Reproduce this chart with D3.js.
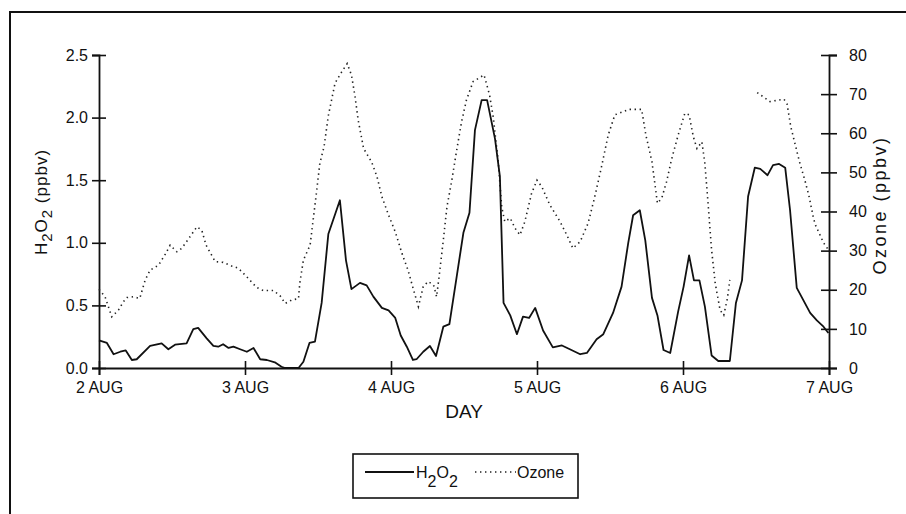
<!DOCTYPE html>
<html>
<head>
<meta charset="utf-8">
<script src="https://cdn.jsdelivr.net/npm/d3@7"></script>
<style>
body { margin: 0; background: #fff; }
svg { font-family: "Liberation Sans", Arial, sans-serif; }
</style>
</head>
<body>
<script>
// hours since 2 Aug 00:00
var h2o2Hours = [0, 1.3, 2.4, 3.5, 4.4, 5.4, 6.2, 8.4, 10.3, 11.4, 12.5, 14.4, 15.5, 16.3, 17.7, 18.8, 19.6, 20.4,
        21.3, 22.1, 23.2, 24.3, 25.4, 26.5, 27.6, 28.9, 30.0, 30.6, 32.8, 33.6, 34.6, 35.5, 36.6, 37.7, 39.6, 40.6,
        41.5, 42.9, 44.0, 45.1, 46.5, 47.6, 48.7, 49.6, 50.6, 51.6, 52.2, 53.3, 54.4, 55.4, 56.6, 57.6, 58.8, 59.9,
        60.9, 61.8, 62.9, 63.8, 65.1, 65.9, 66.5, 67.6, 68.7, 69.7, 70.7, 71.7, 73.0, 74.6, 76.1, 77.4, 79.1, 80.2,
        81.8, 82.9, 84.5, 85.9, 87.0, 87.8, 88.9, 89.8, 90.9, 91.8, 92.8, 93.9, 95.2, 96.1, 97.0, 97.8, 98.7, 99.6,
        100.7, 101.8, 103.7, 104.7, 105.7, 106.7, 107.8, 108.7, 109.9, 110.8, 111.8, 112.8, 113.6, 114.7, 115.8,
        116.9, 118.0, 119.1, 119.9];
var h2o2Values = [0.22, 0.20, 0.11, 0.13, 0.14, 0.064, 0.07, 0.176, 0.197, 0.15, 0.186, 0.197, 0.31, 0.32, 0.237, 0.176,
        0.17, 0.19, 0.16, 0.17, 0.15, 0.13, 0.16, 0.07, 0.064, 0.045, 0.01, 0, 0, 0.05, 0.2, 0.21, 0.52, 1.07, 1.34,
        0.86, 0.63, 0.68, 0.66, 0.57, 0.48, 0.46, 0.40, 0.26, 0.17, 0.064, 0.07, 0.13, 0.176, 0.096, 0.33, 0.35,
        0.73, 1.08, 1.24, 1.90, 2.14, 2.14, 1.83, 1.53, 0.52, 0.42, 0.27, 0.41, 0.40, 0.48, 0.30, 0.165, 0.18, 0.15,
        0.11, 0.12, 0.23, 0.27, 0.44, 0.65, 1.00, 1.22, 1.26, 1.02, 0.56, 0.42, 0.144, 0.12, 0.45, 0.65, 0.90, 0.70,
        0.70, 0.49, 0.10, 0.056, 0.056, 0.52, 0.70, 1.37, 1.60, 1.59, 1.54, 1.62, 1.63, 1.60, 1.26, 0.64, 0.54,
        0.44, 0.38, 0.33, 0.28];

var ozoneHours = [0, 1.0, 2.1, 3.2, 4.0, 4.6, 5.6, 6.7, 7.6, 8.4, 9.8, 10.9, 11.7, 12.8, 13.6, 14.4, 16.1, 16.9, 17.6,
        19.1, 20.4, 21.8, 22.9, 24.3, 25.9, 27.0, 28.7, 29.8, 30.6, 31.7, 32.8, 33.0, 33.6, 34.7, 35.2, 35.8, 36.3,
        37.0, 37.7, 38.8, 39.9, 40.8, 41.5, 42.1, 42.6, 43.5, 44.8, 45.7, 46.5, 47.6, 48.7, 49.8, 50.8, 51.7, 52.5,
        53.3, 54.1, 55.0, 55.5, 56.1, 56.6, 57.2, 58.0, 58.8, 59.6, 60.4, 61.5, 63.3, 64.2, 64.8, 65.6, 66.2, 66.7,
        67.6, 68.4, 69.2, 70.0, 71.1, 72.0, 72.8, 74.1, 75.8, 76.9, 77.9, 79.1, 80.4, 81.5, 82.6, 83.7, 84.8, 87.2,
        89.2, 89.9, 90.9, 91.8, 92.5, 93.3, 94.1, 95.2, 96.3, 97.0, 97.7, 98.3, 99.1, 99.6, 100.2, 100.7, 101.3,
        102.1, 102.7, 103.3, 103.7, 105.9, 108.2, 110.3, 112.6, 113.1, 113.5, 113.7, 115.1, 116.1, 116.7, 117.4,
        117.7, 119.1, 120];
var ozoneValues = [20.1, 18.2, 13.1, 14.8, 16.9, 18.0, 18.2, 17.8, 22.5, 25.0, 26.3, 29.1, 31.4, 29.7, 30.6, 32.3,
        36.1, 35.2, 31.4, 27.2, 27.0, 26.1, 25.5, 23.3, 20.6, 19.8, 19.8, 18.4, 16.5, 17.4, 17.7, 21.6, 27.6, 31.4,
        37.8, 45.5, 52.3, 56.6, 64.5, 72.8, 75.7, 77.8, 74.9, 69.3, 63.4, 56.1, 52.7, 48.9, 43.8, 39.1, 34.8, 29.3,
        25.0, 20.0, 15.7, 20.8, 22.1, 21.2, 18.2, 25.9, 32.7, 41.2, 48.0, 55.7, 62.9, 68.5, 73.2, 74.9, 69.8, 64.2,
        53.2, 41.2, 37.4, 38.3, 35.7, 34.0, 37.4, 44.6, 48.0, 46.3, 41.7, 37.4, 34.0, 30.6, 32.3, 37.0, 43.8, 51.4,
        59.5, 64.7, 66.1, 66.1, 59.5, 52.7, 42.1, 43.4, 47.6, 53.2, 59.5, 65.1, 64.7, 59.1, 56.1, 57.8, 52.3, 40.4,
        30.2, 21.6, 14.8, 13.5, 17.8, 22.5, null, 70.4, 68.1, 68.7, 67.5, 63.8, 61.8, 53.0, 47.6, 44.0, 38.7, 36.8,
        32.0, 30.0];

var dayTicks = [0, 24, 48, 72, 96, 120];
var dayLabels = ["2 AUG", "3 AUG", "4 AUG", "5 AUG", "6 AUG", "7 AUG"];
var h2o2Ticks = [0, 0.5, 1.0, 1.5, 2.0, 2.5];
var ozoneTicks = [0, 10, 20, 30, 40, 50, 60, 70, 80];

var width = 906, height = 514;
var plotLeft = 99, plotRight = 829, plotTop = 55, plotBottom = 368;

var svg = d3.select('body').append('svg')
        .attr('width', width)
        .attr('height', height);

// frame (top and left edges only)
svg.append('path')
        .attr('d', 'M10,514 L10,12 L906,12')
        .attr('fill', 'none')
        .attr('stroke', '#111')
        .attr('stroke-width', 2);

var x = d3.scaleLinear().domain([0, 120]).range([plotLeft, plotRight]);
var yH = d3.scaleLinear().domain([0, 2.5]).range([plotBottom, plotTop]);
var yO = d3.scaleLinear().domain([0, 80]).range([plotBottom, plotTop]);

function styleAxis(g) {
        g.select('.domain').attr('stroke', '#111').attr('stroke-width', 1.8);
        g.selectAll('.tick line').attr('stroke', '#111').attr('stroke-width', 1.6);
        g.selectAll('.tick text').attr('fill', '#111').style('font-size', '16px');
}

var xAxis = svg.append('g')
        .attr('transform', 'translate(0,' + plotBottom + ')')
        .call(d3.axisBottom(x).tickValues(dayTicks).tickSizeOuter(0).tickSize(7).tickPadding(7)
                .tickFormat(function(d, i) { return dayLabels[i]; }));
styleAxis(xAxis);
xAxis.selectAll('.tick line').attr('y1', -7);

var leftAxis = svg.append('g')
        .attr('transform', 'translate(' + plotLeft + ',0)')
        .call(d3.axisLeft(yH).tickValues(h2o2Ticks).tickSizeOuter(0).tickSize(7).tickPadding(4)
                .tickFormat(d3.format('.1f')));
styleAxis(leftAxis);
leftAxis.selectAll('.tick line').attr('x1', 7);

var rightAxis = svg.append('g')
        .attr('transform', 'translate(' + plotRight + ',0)')
        .call(d3.axisRight(yO).tickValues(ozoneTicks).tickSizeOuter(0).tickSize(8).tickPadding(12));
styleAxis(rightAxis);
rightAxis.selectAll('.tick line').attr('x1', -8);

// series
var h2o2Data = h2o2Hours.map(function(h, i) { return [h, h2o2Values[i]]; });
var ozoneData = ozoneHours.map(function(h, i) { return [h, ozoneValues[i]]; });

svg.append('path')
        .datum(ozoneData)
        .attr('fill', 'none')
        .attr('stroke', '#222')
        .attr('stroke-width', 1.6)
        .attr('stroke-dasharray', '1.4,3.6')
        .attr('d', d3.line()
                .defined(function(d) { return d[1] !== null; })
                .x(function(d) { return x(d[0]); })
                .y(function(d) { return yO(d[1]); }));

svg.append('path')
        .datum(h2o2Data)
        .attr('fill', 'none')
        .attr('stroke', '#111')
        .attr('stroke-width', 1.8)
        .attr('stroke-linejoin', 'round')
        .attr('d', d3.line()
                .x(function(d) { return x(d[0]); })
                .y(function(d) { return yH(d[1]); }));

// axis titles
svg.append('text')
        .attr('x', (plotLeft + plotRight) / 2)
        .attr('y', 418)
        .attr('text-anchor', 'middle')
        .style('font-size', '19px')
        .attr('fill', '#111')
        .text('DAY');

var lt = svg.append('text')
        .attr('transform', 'translate(47,202) rotate(-90)')
        .attr('text-anchor', 'middle')
        .style('font-size', '17px')
        .attr('letter-spacing', '1px')
        .attr('fill', '#111');
lt.append('tspan').text('H');
lt.append('tspan').attr('dy', 5).style('font-size', '15px').text('2');
lt.append('tspan').attr('dy', -5).text('O');
lt.append('tspan').attr('dy', 5).style('font-size', '15px').text('2');
lt.append('tspan').attr('dy', -5).text(' (ppbv)');

svg.append('text')
        .attr('transform', 'translate(886,205) rotate(-90)')
        .attr('text-anchor', 'middle')
        .style('font-size', '18px')
        .attr('letter-spacing', '2.5px')
        .attr('fill', '#111')
        .text('Ozone (ppbv)');

// legend
var legend = svg.append('g');
legend.append('rect')
        .attr('x', 353)
        .attr('y', 454)
        .attr('width', 225)
        .attr('height', 44)
        .attr('fill', 'none')
        .attr('stroke', '#111')
        .attr('stroke-width', 1.6);
legend.append('line')
        .attr('x1', 365).attr('x2', 414)
        .attr('y1', 472).attr('y2', 472)
        .attr('stroke', '#111')
        .attr('stroke-width', 1.8);
var lh = legend.append('text')
        .attr('x', 416)
        .attr('y', 478)
        .style('font-size', '16px')
        .attr('fill', '#111');
lh.append('tspan').text('H');
lh.append('tspan').attr('dy', 9).text('2');
lh.append('tspan').attr('dy', -9).text('O');
lh.append('tspan').attr('dy', 9).text('2');
legend.append('line')
        .attr('x1', 475).attr('x2', 516)
        .attr('y1', 472).attr('y2', 472)
        .attr('stroke', '#222')
        .attr('stroke-width', 1.4)
        .attr('stroke-dasharray', '1.4,3.6');
legend.append('text')
        .attr('x', 517)
        .attr('y', 478)
        .style('font-size', '16px')
        .attr('fill', '#111')
        .text('Ozone');
</script>
</body>
</html>
